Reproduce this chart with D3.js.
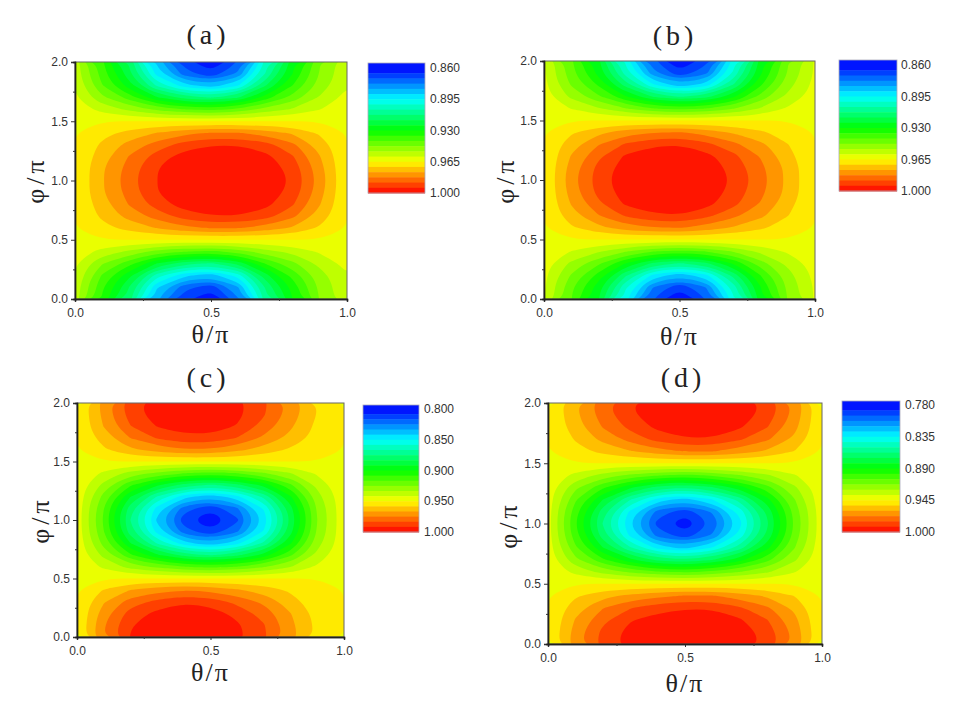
<!DOCTYPE html>
<html><head><meta charset="utf-8">
<script src="https://cdn.jsdelivr.net/npm/d3@7"></script>
<style>body{margin:0;background:#fff}svg{display:block}</style>
</head><body>
<svg id="chart" width="954" height="710"></svg>
<script>
// ---------- data ----------
const thetaGrid = [0.0,0.1,0.2,0.3,0.4,0.5,0.6,0.7,0.8,0.9,1.0];
const phiGrid = [0.0,0.1,0.2,0.3,0.4,0.5,0.6,0.7,0.8,0.9,1.0,1.1,1.2,1.3,1.4,1.5,1.6,1.7,1.8,1.9,2.0];
const thetaTicks = [0.0,0.5,1.0];
const thetaMinorTicks = [0.25,0.75];
const phiTicks = [0.0,0.5,1.0,1.5,2.0];
const phiMinorTicks = [0.25,0.75,1.25,1.75];
const panelLabels = ["(a)","(b)","(c)","(d)"];
const xTitle = "θ/π";
const yTitle = "φ/π";

const rangeA = [0.86,1.0];
const rangeB = [0.86,1.0];
const rangeC = [0.80,1.0];
const rangeD = [0.78,1.0];
const colorbarTicksA = [0.860,0.895,0.930,0.965,1.000];
const colorbarTicksB = [0.860,0.895,0.930,0.965,1.000];
const colorbarTicksC = [0.800,0.850,0.900,0.950,1.000];
const colorbarTicksD = [0.780,0.835,0.890,0.945,1.000];

// rows: phi = 0 .. 2 ; columns: theta = 0 .. 1
const fieldA = [
[.957,.935,.915,.885,.868,.861,.877,.910,.930,.948,.958],
[.957,.937,.918,.890,.874,.868,.883,.913,.932,.949,.958],
[.959,.941,.926,.904,.891,.886,.898,.922,.938,.951,.959],
[.960,.948,.938,.924,.915,.912,.920,.936,.946,.955,.961],
[.963,.957,.952,.945,.942,.940,.944,.951,.955,.960,.963],
[.963,.965,.965,.965,.965,.965,.965,.965,.965,.965,.963],
[.965,.969,.973,.977,.981,.983,.983,.980,.976,.970,.965],
[.965,.972,.979,.985,.991,.994,.994,.991,.984,.974,.965],
[.965,.974,.983,.991,.997,.998,.998,.996,.989,.977,.965],
[.965,.976,.985,.994,.999,1.000,1.000,.998,.992,.979,.965],
[.965,.976,.986,.994,.999,1.000,1.000,.999,.993,.980,.965],
[.965,.976,.985,.994,.999,1.000,1.000,.998,.992,.979,.965],
[.965,.974,.983,.991,.997,.998,.998,.996,.989,.977,.965],
[.965,.972,.979,.985,.991,.994,.994,.991,.984,.974,.965],
[.965,.969,.973,.977,.981,.983,.983,.980,.976,.970,.965],
[.963,.965,.965,.965,.965,.965,.965,.965,.965,.965,.963],
[.963,.957,.952,.946,.942,.940,.943,.950,.954,.959,.963],
[.960,.949,.939,.925,.916,.912,.918,.933,.944,.954,.961],
[.959,.942,.927,.906,.892,.886,.895,.918,.936,.950,.959],
[.957,.939,.920,.893,.875,.867,.879,.907,.930,.948,.958],
[.957,.937,.917,.888,.869,.861,.872,.903,.928,.947,.958]
];
const fieldB = [
[.960,.942,.925,.898,.872,.860,.872,.900,.928,.948,.960],
[.960,.943,.927,.902,.878,.867,.878,.904,.930,.949,.960],
[.961,.947,.934,.914,.894,.885,.894,.915,.936,.951,.961],
[.962,.952,.943,.930,.917,.912,.917,.931,.945,.955,.962],
[.963,.959,.954,.948,.942,.940,.942,.948,.955,.960,.963],
[.963,.965,.965,.965,.965,.965,.965,.965,.965,.965,.963],
[.965,.970,.975,.980,.982,.983,.980,.976,.972,.968,.965],
[.965,.974,.982,.989,.993,.994,.990,.984,.978,.971,.965],
[.965,.977,.987,.995,.998,.998,.996,.990,.982,.973,.965],
[.965,.979,.990,.997,1.000,1.000,.998,.992,.984,.975,.965],
[.965,.980,.991,.998,1.000,1.000,.999,.993,.985,.975,.965],
[.965,.979,.990,.997,1.000,1.000,.998,.992,.984,.975,.965],
[.965,.977,.987,.995,.998,.998,.996,.990,.982,.973,.965],
[.965,.974,.982,.989,.993,.994,.990,.984,.978,.971,.965],
[.965,.970,.975,.980,.982,.983,.980,.976,.972,.968,.965],
[.963,.965,.965,.965,.965,.965,.965,.965,.965,.965,.963],
[.963,.959,.954,.948,.942,.940,.942,.947,.954,.960,.963],
[.962,.952,.943,.931,.918,.912,.916,.929,.944,.955,.962],
[.961,.947,.935,.916,.896,.885,.892,.913,.935,.951,.961],
[.960,.944,.928,.904,.880,.867,.876,.902,.929,.948,.960],
[.960,.943,.926,.900,.874,.860,.870,.898,.927,.947,.960]
];
const fieldC = [
[.950,.975,.992,.998,1.000,.999,.994,.985,.970,.956,.950],
[.950,.974,.991,.997,1.000,.999,.993,.984,.969,.956,.950],
[.950,.971,.987,.994,.998,.996,.989,.980,.967,.955,.950],
[.950,.966,.979,.986,.991,.988,.981,.973,.962,.953,.950],
[.950,.959,.967,.972,.975,.973,.968,.963,.957,.952,.950],
[.948,.950,.950,.950,.950,.950,.950,.950,.950,.950,.948],
[.949,.940,.930,.923,.917,.914,.917,.924,.933,.943,.949],
[.948,.931,.910,.893,.880,.874,.881,.895,.915,.936,.949],
[.948,.922,.892,.866,.845,.836,.847,.869,.899,.930,.948],
[.947,.917,.879,.847,.821,.810,.824,.851,.889,.926,.948],
[.947,.915,.875,.840,.812,.800,.815,.845,.885,.925,.948],
[.947,.917,.879,.847,.821,.810,.824,.851,.889,.926,.948],
[.948,.922,.892,.866,.845,.836,.847,.869,.899,.930,.948],
[.948,.931,.910,.893,.880,.874,.881,.895,.915,.936,.949],
[.949,.940,.930,.923,.917,.914,.917,.924,.933,.943,.949],
[.948,.950,.950,.950,.950,.950,.950,.950,.950,.950,.948],
[.950,.957,.965,.970,.974,.974,.969,.963,.957,.953,.950],
[.950,.962,.975,.984,.989,.989,.983,.973,.964,.955,.950],
[.950,.967,.983,.992,.996,.996,.991,.980,.968,.956,.950],
[.950,.969,.987,.996,.999,.999,.994,.984,.971,.958,.950],
[.950,.970,.988,.996,.999,.999,.994,.985,.972,.958,.950]
];
const fieldD = [
[.945,.968,.985,.995,.999,1.000,1.000,.997,.988,.970,.945],
[.945,.967,.984,.994,.998,1.000,1.000,.996,.987,.969,.945],
[.945,.964,.979,.990,.995,.997,.997,.992,.982,.966,.945],
[.945,.959,.972,.981,.987,.990,.990,.983,.974,.961,.945],
[.945,.953,.960,.966,.970,.973,.973,.968,.962,.954,.945],
[.943,.945,.945,.945,.945,.945,.945,.945,.945,.945,.943],
[.943,.933,.923,.915,.909,.906,.910,.917,.925,.935,.944],
[.942,.920,.901,.883,.868,.863,.871,.886,.905,.925,.943],
[.941,.910,.881,.854,.831,.822,.835,.858,.887,.917,.943],
[.940,.903,.867,.833,.804,.793,.809,.839,.874,.912,.942],
[.940,.900,.862,.826,.795,.783,.800,.832,.870,.910,.942],
[.940,.903,.867,.833,.804,.793,.809,.839,.874,.912,.942],
[.941,.910,.881,.854,.831,.822,.835,.858,.887,.917,.943],
[.942,.920,.901,.883,.868,.863,.871,.886,.905,.925,.943],
[.943,.933,.923,.915,.909,.906,.910,.917,.925,.935,.944],
[.943,.945,.945,.945,.945,.945,.945,.945,.945,.945,.943],
[.945,.951,.957,.963,.969,.973,.973,.968,.962,.954,.945],
[.945,.955,.966,.976,.985,.990,.990,.983,.974,.961,.945],
[.945,.959,.973,.984,.993,.997,.997,.992,.982,.966,.945],
[.945,.961,.977,.989,.997,1.000,1.000,.996,.987,.969,.945],
[.945,.962,.978,.990,.998,1.000,1.000,.997,.988,.970,.945]
];

// ---------- layout ----------
const panels = [
  {field: fieldA, range: rangeA, cbTicks: colorbarTicksA, label: panelLabels[0],
   plot: {x0: 75, x1: 347, y0: 62, y1: 299}, cb: {x0: 368, x1: 425, y0: 63, y1: 193, top: 68, lx: 430},
   title: {x: 208, y: 34}, xt: 334, yt: {x: 35, y: 180}},
  {field: fieldB, range: rangeB, cbTicks: colorbarTicksB, label: panelLabels[1],
   plot: {x0: 544, x1: 815, y0: 61, y1: 299}, cb: {x0: 839, x1: 897, y0: 60, y1: 191, top: 65, lx: 901},
   title: {x: 675, y: 35}, xt: 336, yt: {x: 505, y: 180}},
  {field: fieldC, range: rangeC, cbTicks: colorbarTicksC, label: panelLabels[2],
   plot: {x0: 77, x1: 344, y0: 403, y1: 637}, cb: {x0: 363, x1: 419, y0: 405, y1: 532, top: 409, lx: 424},
   title: {x: 208, y: 377}, xt: 672, yt: {x: 40, y: 520}},
  {field: fieldD, range: rangeD, cbTicks: colorbarTicksD, label: panelLabels[3],
   plot: {x0: 548, x1: 822, y0: 403, y1: 644}, cb: {x0: 842, x1: 900, y0: 401, y1: 532, top: 405, lx: 905},
   title: {x: 683, y: 377}, xt: 683, yt: {x: 508, y: 525}}
];

const svg = d3.select("#chart");
const nLevels = 24;
const cmap = d3.scaleLinear().domain([0, .25, .5, .75, 1])
  .range(["#0000ff", "#00ffff", "#00ff00", "#ffff00", "#ff0000"]);
const bandColor = k => cmap((k + 0.5) / nLevels);
const tickFont = "'Liberation Sans', Arial, sans-serif";
const serif = "'Liberation Serif', 'Times New Roman', serif";

panels.forEach((p, idx) => {
  const g = svg.append("g");
  const nx = thetaGrid.length, ny = phiGrid.length;
  const x = d3.scaleLinear().domain([0, 1]).range([p.plot.x0, p.plot.x1]);
  const y = d3.scaleLinear().domain([0, 2]).range([p.plot.y1, p.plot.y0]);
  const gx = d3.scaleLinear().domain([0.5, nx - 0.5]).range([thetaGrid[0], thetaGrid[nx - 1]]);
  const gy = d3.scaleLinear().domain([0.5, ny - 0.5]).range([phiGrid[0], phiGrid[ny - 1]]);
  const step = (p.range[1] - p.range[0]) / nLevels;
  const thresholds = d3.range(1, nLevels).map(k => p.range[0] + k * step + 1e-9);
  const contours = d3.contours().size([nx, ny]).thresholds(thresholds)(p.field.flat());
  const line = d3.line().x(d => x(gx(d[0]))).y(d => y(gy(d[1])))
    .curve(d3.curveBasisClosed);

  const clipId = "clip" + idx;
  g.append("clipPath").attr("id", clipId).append("rect")
    .attr("x", p.plot.x0).attr("y", p.plot.y0)
    .attr("width", p.plot.x1 - p.plot.x0).attr("height", p.plot.y1 - p.plot.y0);
  const body = g.append("g").attr("clip-path", `url(#${clipId})`);
  body.append("rect")
    .attr("x", p.plot.x0).attr("y", p.plot.y0)
    .attr("width", p.plot.x1 - p.plot.x0).attr("height", p.plot.y1 - p.plot.y0)
    .attr("fill", bandColor(0));
  body.selectAll("path.band").data(contours).join("path").attr("class", "band")
    .attr("d", c => c.coordinates.map(poly => poly.map(ring => line(ring.slice(0, -1))).join("")).join(""))
    .attr("fill", (c, i) => bandColor(i + 1))
    .attr("fill-rule", "evenodd");

  // frame
  g.append("rect")
    .attr("x", p.plot.x0).attr("y", p.plot.y0)
    .attr("width", p.plot.x1 - p.plot.x0).attr("height", p.plot.y1 - p.plot.y0)
    .attr("fill", "none").attr("stroke", "#666").attr("stroke-width", 1);

  // axes
  g.append("g").attr("transform", `translate(${p.plot.x0},0)`)
    .call(d3.axisLeft(y).tickValues(phiTicks).tickFormat(d3.format(".1f")).tickSize(4).tickPadding(3));
  g.append("g").attr("transform", `translate(${p.plot.x0},0)`)
    .call(d3.axisLeft(y).tickValues(phiMinorTicks).tickFormat("").tickSize(2));
  g.append("g").attr("transform", `translate(0,${p.plot.y1})`)
    .call(d3.axisBottom(x).tickValues(thetaTicks).tickFormat(d3.format(".1f")).tickSize(3).tickPadding(6));
  g.append("g").attr("transform", `translate(0,${p.plot.y1})`)
    .call(d3.axisBottom(x).tickValues(thetaMinorTicks).tickFormat("").tickSize(2));
  g.selectAll(".domain").attr("stroke", "#222").attr("stroke-width", 1.4);
  g.selectAll(".tick line").attr("stroke", "#333");
  g.selectAll(".tick text").attr("font-family", tickFont).attr("font-size", 12).attr("fill", "#333");

  // titles
  g.append("text").attr("x", p.title.x).attr("y", p.title.y).attr("dy", "0.35em")
    .attr("text-anchor", "middle").attr("font-family", serif).attr("font-size", 28)
    .attr("letter-spacing", 4).attr("fill", "#222").text(p.label);
  g.append("text").attr("x", (p.plot.x0 + p.plot.x1) / 2).attr("y", p.xt).attr("dy", "0.35em")
    .attr("text-anchor", "middle").attr("font-family", serif).attr("font-size", 26)
    .attr("letter-spacing", 2).attr("fill", "#222").text(xTitle);
  g.append("text").attr("transform", `translate(${p.yt.x},${p.yt.y}) rotate(-90)`).attr("dy", "0.35em")
    .attr("text-anchor", "middle").attr("font-family", serif).attr("font-size", 26)
    .attr("letter-spacing", 4).attr("fill", "#222").text(yTitle);

  // colorbar
  const cy = d3.scaleLinear().domain(p.range).range([p.cb.top, p.cb.y1]);
  const bands = d3.range(nLevels);
  g.selectAll("rect.cbband").data(bands).join("rect").attr("class", "cbband")
    .attr("x", p.cb.x0).attr("width", p.cb.x1 - p.cb.x0)
    .attr("y", k => k === 0 ? p.cb.y0 : cy(p.range[0] + k * step))
    .attr("height", k => (k === 0 ? cy(p.range[0] + step) - p.cb.y0 : cy(p.range[0] + (k + 1) * step) - cy(p.range[0] + k * step)) + 0.5)
    .attr("fill", k => bandColor(k));
  g.append("rect").attr("x", p.cb.x0).attr("y", p.cb.y0)
    .attr("width", p.cb.x1 - p.cb.x0).attr("height", p.cb.y1 - p.cb.y0)
    .attr("fill", "none").attr("stroke", "#aab").attr("stroke-width", 0.8);
  g.selectAll("text.cbl").data(p.cbTicks).join("text").attr("class", "cbl")
    .attr("x", p.cb.lx).attr("y", d => cy(d)).attr("dy", "0.35em")
    .attr("font-family", tickFont).attr("font-size", 12).attr("fill", "#333")
    .text(d => d3.format(".3f")(d));
});
</script>
</body></html>
